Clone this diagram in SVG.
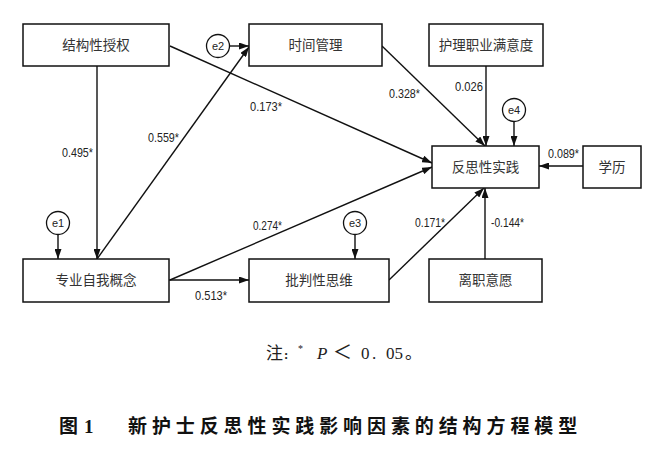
<svg xmlns="http://www.w3.org/2000/svg" width="652" height="458" viewBox="0 0 652 458">
<style>
.box{fill:#fff;stroke:#111;stroke-width:1.5}
.lbl{font-family:"Noto Sans CJK SC","Noto Sans",sans-serif;font-size:13.5px;fill:#333;text-anchor:middle}
.num{font-family:"Liberation Sans",Arial,sans-serif;font-size:13.5px;fill:#222}
.err{fill:#fff;stroke:#111;stroke-width:1.3}
.etx{font-family:"Liberation Sans",Arial,sans-serif;font-size:11px;fill:#222;text-anchor:middle}
.con{stroke:#111;stroke-width:1.4;fill:none;marker-end:url(#ah)}
</style>
<defs>
<marker id="ah" markerUnits="userSpaceOnUse" markerWidth="10" markerHeight="7" refX="10" refY="3.5" orient="auto">
<path d="M0,0 L10,3.5 L0,7 z" fill="#111"/>
</marker>
</defs>
<rect width="652" height="458" fill="#fff"/>
<g id="connectors">
<line class="con" x1="97" y1="66" x2="97" y2="259"/>
<line class="con" x1="97" y1="259" x2="249" y2="47"/>
<line class="con" x1="170" y1="46" x2="432" y2="163"/>
<line class="con" x1="382" y1="46" x2="485" y2="146"/>
<line class="con" x1="486" y1="66" x2="486" y2="146"/>
<line class="con" x1="583" y1="166" x2="539" y2="166"/>
<line class="con" x1="170" y1="280" x2="432" y2="167"/>
<line class="con" x1="169" y1="280" x2="249" y2="280"/>
<line class="con" x1="389" y1="280" x2="484" y2="188"/>
<line class="con" x1="485" y1="259" x2="485" y2="188"/>
<line class="con" x1="230" y1="46" x2="249" y2="46"/>
<line class="con" x1="514" y1="122" x2="514" y2="146"/>
<line class="con" x1="58" y1="235" x2="58" y2="259"/>
<line class="con" x1="355" y1="235" x2="355" y2="259"/>
<text class="num" x="62" y="157" textLength="31" lengthAdjust="spacingAndGlyphs">0.495*</text>
<text class="num" x="148" y="142" textLength="31" lengthAdjust="spacingAndGlyphs">0.559*</text>
<text class="num" x="250" y="111" textLength="32" lengthAdjust="spacingAndGlyphs">0.173*</text>
<text class="num" x="389" y="98" textLength="31" lengthAdjust="spacingAndGlyphs">0.328*</text>
<text class="num" x="455" y="91" textLength="28" lengthAdjust="spacingAndGlyphs">0.026</text>
<text class="num" x="548" y="158" textLength="31" lengthAdjust="spacingAndGlyphs">0.089*</text>
<text class="num" x="253" y="230" textLength="29" lengthAdjust="spacingAndGlyphs">0.274*</text>
<text class="num" x="195" y="300" textLength="32" lengthAdjust="spacingAndGlyphs">0.513*</text>
<text class="num" x="415" y="227" textLength="30" lengthAdjust="spacingAndGlyphs">0.171*</text>
<text class="num" x="491" y="227" textLength="33" lengthAdjust="spacingAndGlyphs">-0.144*</text>
</g>
<g id="n1"><rect class="box" x="23" y="24" width="146" height="42"/><text class="lbl" x="96" y="50">结构性授权</text></g>
<g id="n2"><rect class="box" x="249" y="24" width="133" height="42"/><text class="lbl" x="315.5" y="50">时间管理</text></g>
<g id="n3"><rect class="box" x="429" y="24" width="114" height="42"/><text class="lbl" x="486" y="50">护理职业满意度</text></g>
<g id="n4"><rect class="box" x="432" y="146" width="107" height="42"/><text class="lbl" x="485.5" y="172">反思性实践</text></g>
<g id="n5"><rect class="box" x="583" y="146" width="58" height="42"/><text class="lbl" x="612" y="172">学历</text></g>
<g id="n6"><rect class="box" x="23" y="259" width="146" height="43"/><text class="lbl" x="96" y="285">专业自我概念</text></g>
<g id="n7"><rect class="box" x="249" y="259" width="140" height="43"/><text class="lbl" x="319" y="285">批判性思维</text></g>
<g id="n8"><rect class="box" x="429" y="259" width="113" height="43"/><text class="lbl" x="485.5" y="285">离职意愿</text></g>
<g id="e1"><circle class="err" cx="58" cy="223" r="11.5"/><text class="etx" x="58" y="227">e1</text></g>
<g id="e2"><circle class="err" cx="218" cy="46" r="11.5"/><text class="etx" x="218" y="50">e2</text></g>
<g id="e3"><circle class="err" cx="355" cy="223" r="11.5"/><text class="etx" x="355" y="227">e3</text></g>
<g id="e4"><circle class="err" cx="514" cy="110" r="11.5"/><text class="etx" x="514" y="114">e4</text></g>
<g id="note" font-family="'Liberation Serif','Noto Sans CJK SC',serif" font-size="17" fill="#222">
<text x="266" y="359">注<tspan x="284" font-size="13" font-weight="bold">:</tspan><tspan x="298" y="352" font-size="10">*</tspan><tspan x="317" y="359" font-style="italic">P</tspan><tspan x="333" font-size="19">＜</tspan><tspan x="361">0</tspan><tspan x="372">.</tspan><tspan x="386">05</tspan><tspan x="405">。</tspan></text>
</g>
<g id="caption" font-family="'Noto Sans CJK SC',sans-serif" font-size="19" font-weight="bold" fill="#111">
<text x="59" y="433">图</text>
<text x="84" y="433" font-family="'Liberation Serif',serif">1</text>
<text x="128" y="433" letter-spacing="4.9">新护士反思性实践影响因素的结构方程模型</text>
</g>
</svg>
